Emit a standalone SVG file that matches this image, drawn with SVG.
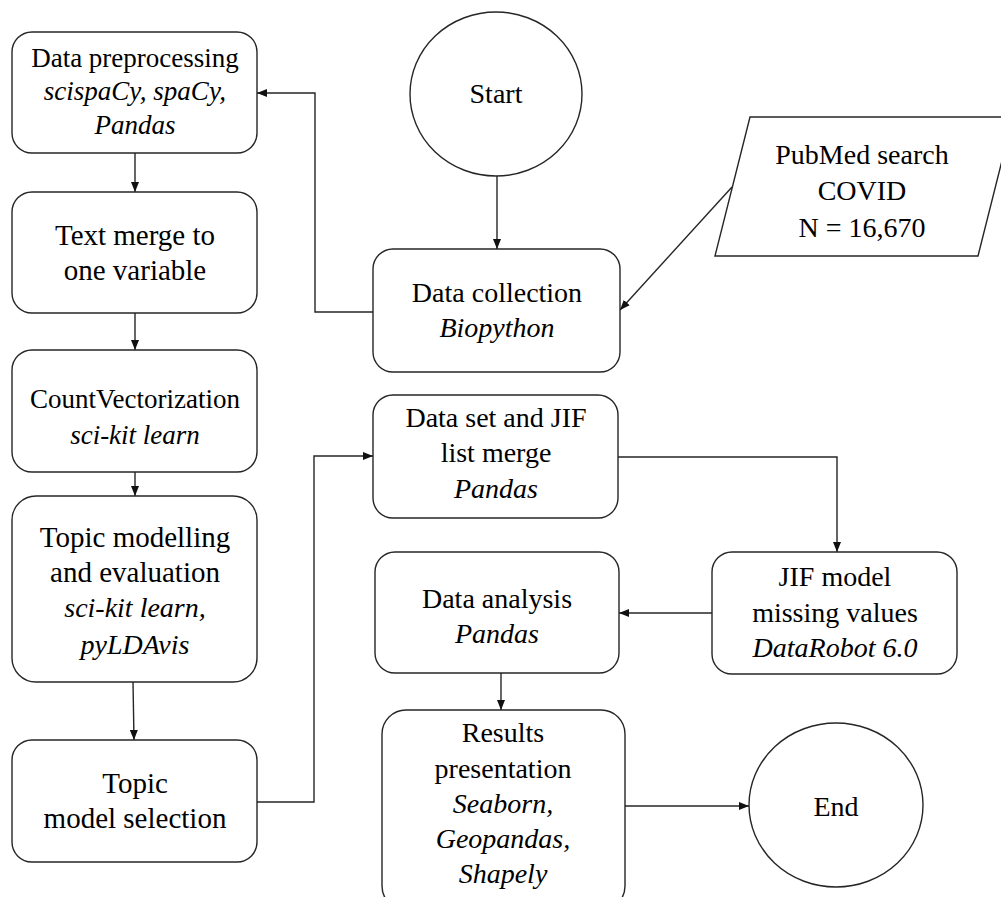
<svg xmlns="http://www.w3.org/2000/svg" width="1001" height="897" viewBox="0 0 1001 897">
<style>
.box{fill:#fff;stroke:#262626;stroke-width:1.4}
.t{font-family:"Liberation Serif","Times New Roman",serif;font-size:28px;fill:#000;text-anchor:middle}
.i{font-style:italic}
.c{fill:none;stroke:#262626;stroke-width:1.4}
</style>
<defs>
<marker id="ah" markerUnits="userSpaceOnUse" markerWidth="10" markerHeight="8" refX="10" refY="4" orient="auto">
<path d="M0,0 L10,4 L0,8 z" fill="#111"/>
</marker>
</defs>
<rect width="1001" height="897" fill="#fff"/>
<g id="connectors">
<path class="c" d="M135,153 V192" marker-end="url(#ah)"/>
<path class="c" d="M135,313 V350" marker-end="url(#ah)"/>
<path class="c" d="M135,472 V496" marker-end="url(#ah)"/>
<path class="c" d="M133,682 L134,740" marker-end="url(#ah)"/>
<path class="c" d="M257,802 H314 V456 H373" marker-end="url(#ah)"/>
<path class="c" d="M497,176 V249" marker-end="url(#ah)"/>
<path class="c" d="M373,312 H315 V93 H257" marker-end="url(#ah)"/>
<path class="c" d="M732,187 L620,310" marker-end="url(#ah)"/>
<path class="c" d="M618,457 H837 V552" marker-end="url(#ah)"/>
<path class="c" d="M712,613 H619" marker-end="url(#ah)"/>
<path class="c" d="M501,673 V710" marker-end="url(#ah)"/>
<path class="c" d="M625,806 H749" marker-end="url(#ah)"/>
</g>
<g id="data-preprocessing">
<rect class="box" x="12" y="32" width="245" height="121" rx="20"/>
<text class="t" style="font-size:27px" x="135" y="67">Data preprocessing</text>
<text class="t i" style="font-size:27px" x="135" y="100">scispaCy, spaCy,</text>
<text class="t i" style="font-size:27px" x="135" y="134">Pandas</text>
</g>
<g id="text-merge">
<rect class="box" x="12" y="192" width="245" height="121" rx="20"/>
<text class="t" style="font-size:29px" x="135" y="245">Text merge to</text>
<text class="t" style="font-size:29px" x="135" y="280">one variable</text>
</g>
<g id="count-vectorization">
<rect class="box" x="12" y="350" width="245" height="122" rx="20"/>
<text class="t" style="font-size:27px" x="135" y="408">CountVectorization</text>
<text class="t i" style="font-size:27px" x="135" y="444">sci-kit learn</text>
</g>
<g id="topic-modelling">
<rect class="box" x="12" y="496" width="245" height="186" rx="24"/>
<text class="t" style="font-size:29px" x="135" y="547">Topic modelling</text>
<text class="t" style="font-size:29px" x="135" y="582">and evaluation</text>
<text class="t i" style="font-size:28px" x="135" y="617">sci-kit learn,</text>
<text class="t i" style="font-size:28px" x="135" y="654">pyLDAvis</text>
</g>
<g id="topic-model-selection">
<rect class="box" x="12" y="740" width="245" height="122" rx="20"/>
<text class="t" style="font-size:29px" x="135" y="793">Topic</text>
<text class="t" style="font-size:29px" x="135" y="828">model selection</text>
</g>
<g id="start">
<ellipse class="box" cx="496" cy="94" rx="86" ry="82"/>
<text class="t" x="496" y="103">Start</text>
</g>
<g id="data-collection">
<rect class="box" x="373" y="249" width="247" height="123" rx="20"/>
<text class="t" x="497" y="302">Data collection</text>
<text class="t i" x="497" y="337">Biopython</text>
</g>
<g id="pubmed">
<polygon class="box" points="750,117 1013,117 978,256 715,256"/>
<text class="t" x="862" y="164">PubMed search</text>
<text class="t" x="862" y="200">COVID</text>
<text class="t" x="862" y="237">N = 16,670</text>
</g>
<g id="dataset-jif-merge">
<rect class="box" x="373" y="395" width="245" height="123" rx="20"/>
<text class="t" x="496" y="427">Data set and JIF</text>
<text class="t" x="496" y="462">list merge</text>
<text class="t i" x="496" y="498">Pandas</text>
</g>
<g id="jif-model">
<rect class="box" x="712" y="552" width="245" height="122" rx="20"/>
<text class="t" x="835" y="586">JIF model</text>
<text class="t" x="835" y="622">missing values</text>
<text class="t i" x="835" y="657">DataRobot 6.0</text>
</g>
<g id="data-analysis">
<rect class="box" x="375" y="552" width="244" height="121" rx="20"/>
<text class="t" x="497" y="608">Data analysis</text>
<text class="t i" x="497" y="643">Pandas</text>
</g>
<g id="results">
<rect class="box" x="382" y="710" width="243" height="200" rx="24"/>
<text class="t" x="503" y="742">Results</text>
<text class="t" x="503" y="778">presentation</text>
<text class="t i" x="503" y="813">Seaborn,</text>
<text class="t i" x="503" y="848">Geopandas,</text>
<text class="t i" x="503" y="883">Shapely</text>
</g>
<g id="end">
<ellipse class="box" cx="836" cy="805" rx="87" ry="82"/>
<text class="t" x="836" y="816">End</text>
</g>
</svg>
